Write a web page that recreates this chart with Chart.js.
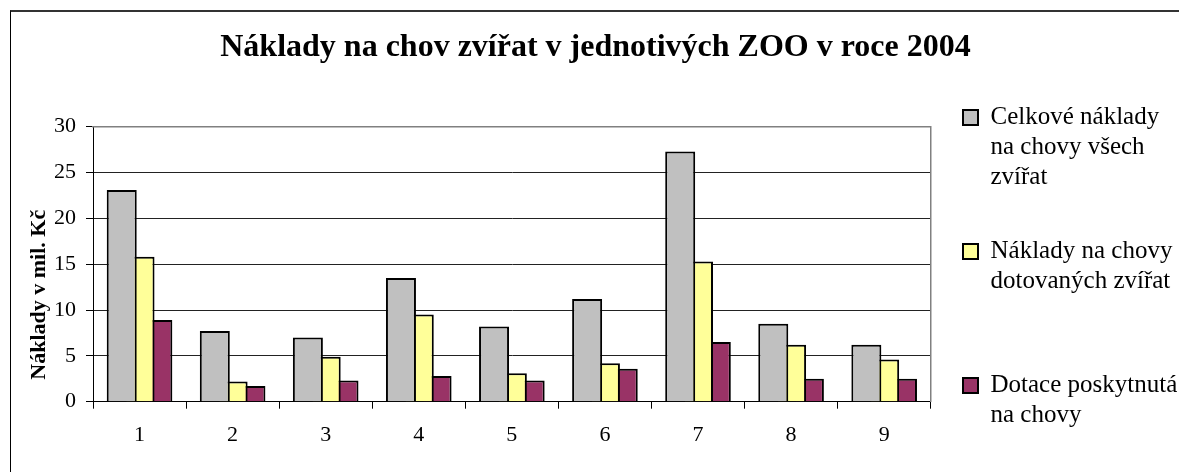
<!DOCTYPE html>
<html>
<head>
<meta charset="utf-8">
<script src="https://cdn.jsdelivr.net/npm/chart.js@4.4.1/dist/chart.umd.min.js"></script>
<style>
  body { margin: 0; overflow: hidden; background: #fff; }
  #frame { position: absolute; left: 10px; top: 10px; width: 2000px; height: 2000px;
           border-left: 1px solid #000; border-top: 2px solid #333; }
  #wrap { position: absolute; left: 0; top: 0; width: 1179px; height: 472px; }
</style>
</head>
<body>
<div id="frame"></div>
<div id="wrap"><canvas id="zooChart"></canvas></div>
<script>
const zoo = ["1", "2", "3", "4", "5", "6", "7", "8", "9"];
const celkoveNaklady = [23.1, 7.7, 7.0, 13.5, 8.2, 11.2, 27.3, 8.5, 6.2];
const dotovaneNaklady = [15.8, 2.2, 4.9, 9.5, 3.1, 4.2, 15.3, 6.2, 4.6];
const dotace = [8.9, 1.7, 2.3, 2.8, 2.3, 3.6, 6.5, 2.5, 2.5];

const seriesNames = [
  "Celkové náklady na chovy všech zvířat",
  "Náklady na chovy dotovaných zvířat",
  "Dotace poskytnutá na chovy",
];
// legend text broken into lines like in the original (empty lines keep the spacing)
const legendLines = [
  ["Celkové náklady", "na chovy všech", "zvířat", ""],
  ["Náklady na chovy", "dotovaných zvířat", "", ""],
  ["Dotace poskytnutá", "na chovy"],
];
const yTicks = [0, 5, 10, 15, 20, 25, 30];

const serif = "'Liberation Serif', 'Times New Roman', serif";

function barSet(label, data, color) {
  return {
    label: label,
    data: data,
    backgroundColor: color,
    borderColor: "#000",
    borderWidth: 2,
    categoryPercentage: 0.574,
    barPercentage: 1.685,
  };
}

const ctx = document.getElementById("zooChart").getContext("2d");
const chart = new Chart(ctx, {
  type: "bar",
  data: {
    labels: zoo,
    datasets: [
      barSet(seriesNames[0], celkoveNaklady, "#C0C0C0"),
      barSet(seriesNames[1], dotovaneNaklady, "#FFFF99"),
      barSet(seriesNames[2], dotace, "#993366"),
    ],
  },
  options: {
    responsive: true,
    maintainAspectRatio: false,
    animation: false,
    events: [],
    layout: { padding: { left: 12, right: 0, top: 0, bottom: 0 } },
    plugins: {
      title: {
        display: true,
        text: "Náklady na chov zvířat v jednotivých ZOO v roce 2004",
        color: "#000",
        font: { family: serif, size: 32, weight: "bold" },
        padding: { top: 28.8, bottom: 24 },
      },
      legend: {
        position: "right",
        align: "start",
        maxWidth: 230,
        title: {
          display: true,
          text: "",
          font: { size: 10, lineHeight: 1 },
          padding: { top: 81, bottom: 0 },
        },
        labels: {
          color: "#000",
          font: { family: serif, size: 25, lineHeight: "30px" },
          boxWidth: 15,
          boxHeight: 15,
          padding: 14,
          generateLabels: function (c) {
            const items = Chart.defaults.plugins.legend.labels.generateLabels(c);
            items.forEach((item, i) => {
              item.text = legendLines[i];
              item.lineWidth = 2;
            });
            return items;
          },
        },
      },
      tooltip: { enabled: false },
    },
    scales: {
      x: {
        grid: {
          offset: true,
          drawOnChartArea: false,
          drawTicks: true,
          tickLength: 7,
          color: "#000",
        },
        border: { color: "#000", width: 1 },
        ticks: {
          color: "#000",
          padding: 13.8,
          font: { family: serif, size: 22 },
        },
        afterFit: function (scale) {
          scale.height = 70.3;
        },
      },
      y: {
        min: 0,
        max: 30,
        afterBuildTicks: function (scale) {
          scale.ticks = yTicks.map((v) => ({ value: v }));
        },
        grid: {
          color: (c) => (c.tick && c.tick.value === 30 ? "#808080" : "#222"),
          tickColor: "#000",
          tickLength: 7,
        },
        border: { color: "#000", width: 1 },
        ticks: {
          color: "#000",
          padding: 10,
          font: { family: serif, size: 22 },
        },
        title: {
          display: true,
          text: "\u2002\u2002Náklady v mil. Kč",
          align: "start",
          color: "#000",
          font: { family: serif, size: 22, weight: "bold" },
          padding: { top: 14.3, bottom: 1.3 },
        },
        afterFit: function (scale) {
          scale.width = 81;
        },
      },
      xTop: {
        type: "category",
        position: "top",
        grid: { display: false, drawTicks: false },
        ticks: { display: false },
        border: { color: "#808080", width: 1.5 },
        afterFit: function (scale) {
          scale.height = 35.5;
        },
      },
      yRight: {
        type: "linear",
        position: "right",
        grid: { display: false, drawTicks: false },
        ticks: { display: false },
        border: { color: "#808080", width: 1.5 },
        afterFit: function (scale) {
          scale.width = 18.3;
        },
      },
    },
  },
});
</script>
</body>
</html>
